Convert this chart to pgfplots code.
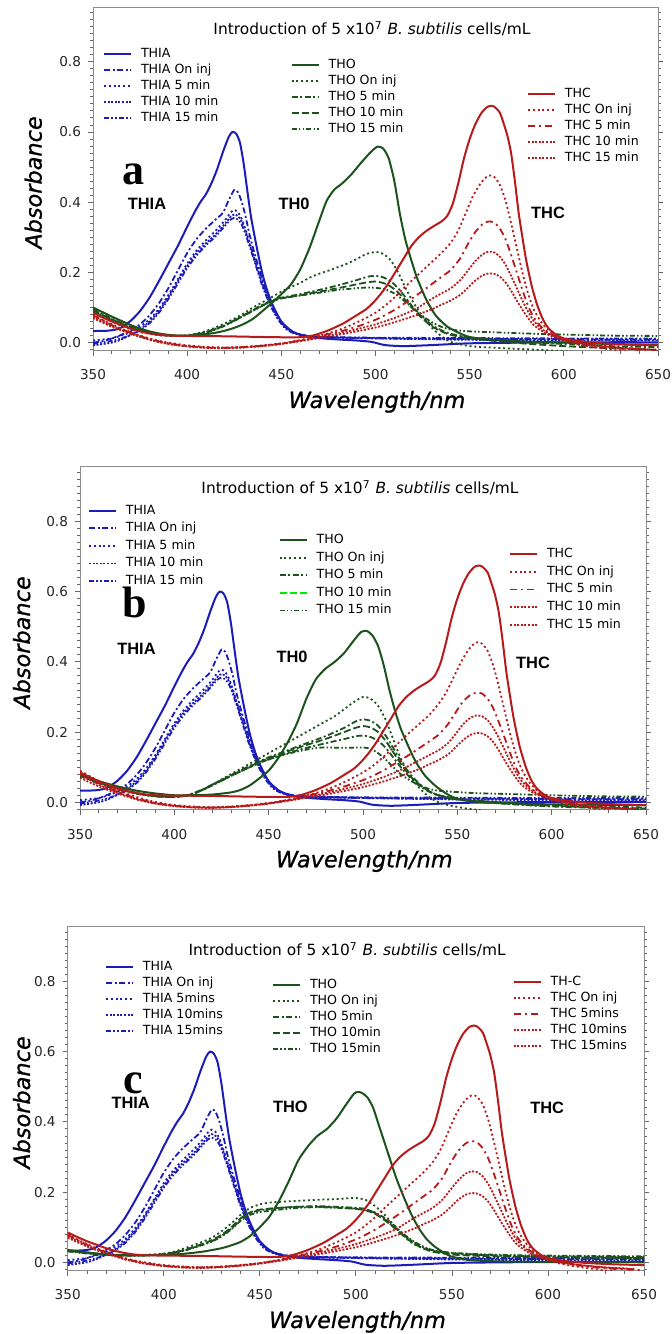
\documentclass[border=0pt]{standalone}
\usepackage{pgfplots}
\pgfplotsset{compat=1.18}
\usepackage{pgfplotstable}
\usepackage{fontspec}
\setmainfont{DejaVu Sans}
\newfontfamily\axfont{DejaVu Sans}[FakeBold=1]
\newfontfamily\grpfont{Liberation Sans}
\newfontfamily\letfont{Liberation Serif}

\definecolor{cblue}{RGB}{28,28,185}
\definecolor{cgreen}{RGB}{28,82,28}
\definecolor{cred}{RGB}{182,26,26}
\definecolor{clime}{RGB}{0,235,0}

% ---------------- THIA (all panels) ----------------
\pgfplotstableread[row sep=\\]{x y\\
350 0.033\\ 358 0.034\\ 364 0.040\\ 370 0.062\\ 375 0.090\\ 380 0.128\\ 385 0.175\\ 390 0.225\\ 395 0.275\\ 400 0.330\\
404 0.372\\ 407 0.400\\ 410 0.423\\ 413 0.455\\ 416 0.495\\ 419 0.543\\ 422 0.585\\ 424 0.600\\ 426 0.595\\ 428 0.570\\
430 0.510\\ 432 0.430\\ 434 0.355\\ 437 0.270\\ 440 0.195\\ 443 0.140\\ 446 0.100\\ 450 0.060\\ 455 0.035\\ 460 0.022\\
470 0.013\\ 480 0.009\\ 490 0.006\\ 498 0.002\\ 505 -0.007\\ 515 -0.010\\ 530 -0.007\\ 550 -0.002\\ 580 0.000\\ 620 0.001\\ 650 0.001\\
}\tIAs
\pgfplotstableread[row sep=\\]{x y\\
350 0.000\\ 355 0.004\\ 360 0.012\\ 365 0.022\\ 370 0.035\\ 375 0.052\\ 380 0.078\\ 385 0.112\\ 390 0.155\\ 395 0.205\\
400 0.255\\ 405 0.295\\ 410 0.325\\ 415 0.350\\ 419 0.370\\ 422 0.405\\ 425 0.435\\ 427 0.428\\ 429 0.400\\ 431 0.360\\
433 0.310\\ 436 0.250\\ 440 0.180\\ 444 0.120\\ 448 0.075\\ 452 0.045\\ 456 0.030\\ 462 0.021\\ 470 0.017\\ 500 0.013\\
550 0.011\\ 600 0.009\\ 650 0.008\\
}\tIAo
\pgfplotstableread[row sep=\\]{x y\\
350 0.006\\ 360 0.012\\ 365 0.020\\ 370 0.030\\ 375 0.045\\ 380 0.066\\ 385 0.096\\ 390 0.135\\ 395 0.180\\ 400 0.225\\
405 0.262\\ 410 0.292\\ 415 0.318\\ 420 0.348\\ 423 0.370\\ 425 0.378\\ 427 0.371\\ 429 0.352\\ 431 0.322\\ 434 0.270\\
437 0.220\\ 440 0.170\\ 444 0.115\\ 448 0.075\\ 452 0.046\\ 456 0.031\\ 462 0.021\\ 470 0.016\\ 500 0.012\\ 550 0.010\\
600 0.010\\ 650 0.010\\
}\tIAf
\pgfplotstableread[row sep=\\]{x y\\
350 -0.008\\ 360 0.000\\ 365 0.009\\ 370 0.022\\ 375 0.038\\ 380 0.060\\ 385 0.090\\ 390 0.130\\ 395 0.175\\ 400 0.218\\
405 0.255\\ 410 0.283\\ 415 0.308\\ 420 0.338\\ 423 0.358\\ 425 0.365\\ 427 0.360\\ 429 0.345\\ 431 0.316\\ 434 0.266\\
437 0.216\\ 440 0.166\\ 444 0.111\\ 448 0.071\\ 452 0.043\\ 456 0.029\\ 462 0.019\\ 470 0.015\\ 500 0.012\\ 550 0.008\\
600 0.006\\ 650 0.006\\
}\tIAt
\pgfplotstableread[row sep=\\]{x y\\
350 -0.004\\ 360 0.005\\ 365 0.012\\ 370 0.022\\ 375 0.035\\ 380 0.055\\ 385 0.085\\ 390 0.124\\ 395 0.168\\ 400 0.212\\
405 0.248\\ 410 0.277\\ 415 0.302\\ 420 0.332\\ 423 0.350\\ 425 0.355\\ 427 0.350\\ 429 0.335\\ 431 0.309\\ 434 0.260\\
437 0.210\\ 440 0.160\\ 444 0.108\\ 448 0.068\\ 452 0.041\\ 456 0.028\\ 462 0.019\\ 470 0.016\\ 500 0.014\\ 550 0.013\\
600 0.012\\ 650 0.012\\
}\tIAq

% ---------------- THO panel a ----------------
\pgfplotstableread[row sep=\\]{x y\\
350 0.100\\ 355 0.087\\ 360 0.074\\ 365 0.062\\ 370 0.050\\ 375 0.040\\ 380 0.032\\ 385 0.026\\ 390 0.022\\ 395 0.020\\
400 0.020\\ 405 0.021\\ 410 0.024\\ 415 0.028\\ 420 0.034\\ 425 0.042\\ 430 0.053\\ 435 0.068\\ 440 0.090\\ 445 0.113\\
450 0.138\\ 455 0.165\\ 460 0.208\\ 465 0.270\\ 470 0.345\\ 474 0.403\\ 478 0.435\\ 482 0.452\\ 487 0.478\\ 492 0.510\\
497 0.540\\ 501 0.558\\ 504 0.553\\ 507 0.525\\ 510 0.460\\ 513 0.365\\ 516 0.290\\ 519 0.235\\ 522 0.185\\ 527 0.122\\
532 0.077\\ 538 0.046\\ 545 0.026\\ 550 0.016\\ 560 0.008\\ 575 0.004\\ 600 0.000\\ 625 -0.004\\ 650 -0.006\\
}\oAs
\pgfplotstableread[row sep=\\]{x y\\
350 0.090\\ 355 0.075\\ 360 0.060\\ 365 0.048\\ 370 0.038\\ 375 0.030\\ 380 0.025\\ 385 0.021\\ 390 0.019\\ 395 0.019\\
400 0.021\\ 405 0.026\\ 410 0.033\\ 415 0.043\\ 420 0.055\\ 425 0.068\\ 430 0.083\\ 435 0.100\\ 440 0.115\\ 445 0.130\\
450 0.145\\ 455 0.158\\ 460 0.170\\ 465 0.185\\ 470 0.196\\ 475 0.205\\ 480 0.215\\ 485 0.225\\ 490 0.238\\ 495 0.252\\
500 0.258\\ 504 0.253\\ 508 0.235\\ 512 0.200\\ 516 0.155\\ 520 0.115\\ 525 0.075\\ 530 0.042\\ 535 0.018\\ 540 0.002\\
550 -0.010\\ 565 -0.015\\ 580 -0.019\\ 595 -0.023\\ 610 -0.027\\
}\oAo
\pgfplotstableread[row sep=\\]{x y\\
350 0.095\\ 360 0.068\\ 370 0.045\\ 380 0.030\\ 390 0.021\\ 400 0.020\\ 410 0.030\\ 420 0.050\\ 430 0.078\\ 440 0.108\\
445 0.120\\ 450 0.128\\ 460 0.138\\ 470 0.150\\ 480 0.163\\ 490 0.178\\ 496 0.188\\ 500 0.190\\ 504 0.186\\ 508 0.175\\
512 0.155\\ 516 0.128\\ 520 0.100\\ 525 0.072\\ 530 0.050\\ 535 0.035\\ 540 0.025\\ 550 0.015\\ 565 0.008\\ 580 0.002\\
600 -0.004\\ 625 -0.010\\ 650 -0.013\\
}\oAf
\pgfplotstableread[row sep=\\]{x y\\
350 0.092\\ 360 0.066\\ 370 0.044\\ 380 0.029\\ 390 0.021\\ 400 0.020\\ 410 0.029\\ 420 0.049\\ 430 0.077\\ 440 0.106\\
445 0.118\\ 450 0.126\\ 460 0.135\\ 470 0.145\\ 480 0.155\\ 490 0.166\\ 496 0.172\\ 500 0.174\\ 504 0.170\\ 508 0.160\\
512 0.143\\ 516 0.120\\ 520 0.095\\ 525 0.068\\ 530 0.046\\ 535 0.032\\ 540 0.022\\ 550 0.012\\ 565 0.004\\ 580 -0.003\\
600 -0.010\\ 625 -0.016\\ 650 -0.020\\
}\oAt
\pgfplotstableread[row sep=\\]{x y\\
350 0.090\\ 360 0.064\\ 370 0.043\\ 380 0.028\\ 390 0.020\\ 400 0.020\\ 410 0.028\\ 420 0.048\\ 430 0.076\\ 440 0.105\\
445 0.118\\ 450 0.126\\ 460 0.134\\ 470 0.142\\ 480 0.150\\ 490 0.155\\ 496 0.157\\ 500 0.156\\ 505 0.152\\ 510 0.140\\
515 0.120\\ 520 0.098\\ 525 0.076\\ 530 0.058\\ 535 0.045\\ 540 0.037\\ 550 0.032\\ 560 0.030\\ 580 0.026\\ 600 0.023\\
625 0.020\\ 650 0.019\\
}\oAq

% ---------------- THO panel b ----------------
\pgfplotstableread[row sep=\\]{x y\\
350 0.080\\ 360 0.060\\ 370 0.045\\ 380 0.033\\ 390 0.025\\ 400 0.020\\ 410 0.020\\ 420 0.022\\ 430 0.028\\ 435 0.035\\
440 0.048\\ 445 0.068\\ 450 0.090\\ 455 0.125\\ 460 0.170\\ 465 0.225\\ 470 0.295\\ 475 0.350\\ 480 0.380\\ 485 0.400\\
490 0.425\\ 495 0.460\\ 499 0.485\\ 502 0.488\\ 505 0.475\\ 508 0.445\\ 511 0.390\\ 514 0.320\\ 517 0.260\\ 520 0.210\\
524 0.160\\ 528 0.115\\ 533 0.075\\ 539 0.044\\ 545 0.022\\ 550 0.010\\ 560 0.002\\ 580 -0.003\\ 600 -0.006\\ 650 -0.008\\
}\oBs
\pgfplotstableread[row sep=\\]{x y\\
350 0.085\\ 360 0.060\\ 370 0.040\\ 380 0.027\\ 390 0.018\\ 400 0.016\\ 408 0.020\\ 415 0.035\\ 420 0.050\\ 425 0.065\\
430 0.080\\ 435 0.095\\ 440 0.110\\ 445 0.125\\ 450 0.140\\ 455 0.155\\ 460 0.170\\ 465 0.185\\ 470 0.200\\ 475 0.215\\
480 0.230\\ 485 0.245\\ 490 0.265\\ 495 0.285\\ 500 0.300\\ 504 0.295\\ 508 0.275\\ 512 0.235\\ 516 0.180\\ 520 0.125\\
525 0.075\\ 530 0.040\\ 535 0.015\\ 540 0.000\\ 545 -0.008\\ 555 -0.018\\ 565 -0.024\\
}\oBo
\pgfplotstableread[row sep=\\]{x y\\
350 0.080\\ 360 0.058\\ 370 0.040\\ 380 0.026\\ 390 0.018\\ 400 0.016\\ 408 0.022\\ 415 0.037\\ 420 0.050\\ 430 0.077\\
440 0.104\\ 445 0.116\\ 450 0.128\\ 460 0.148\\ 470 0.168\\ 480 0.188\\ 490 0.212\\ 496 0.230\\ 500 0.236\\ 504 0.232\\
508 0.218\\ 512 0.190\\ 516 0.155\\ 520 0.118\\ 525 0.080\\ 530 0.052\\ 535 0.032\\ 540 0.020\\ 550 0.008\\ 565 0.000\\
580 -0.006\\ 600 -0.012\\ 625 -0.016\\ 650 -0.020\\
}\oBf
\pgfplotstableread[row sep=\\]{x y\\
350 0.078\\ 360 0.056\\ 370 0.039\\ 380 0.025\\ 390 0.017\\ 400 0.015\\ 408 0.021\\ 415 0.036\\ 420 0.049\\ 430 0.076\\
440 0.102\\ 445 0.114\\ 450 0.125\\ 460 0.145\\ 470 0.163\\ 480 0.180\\ 490 0.200\\ 496 0.212\\ 500 0.217\\ 504 0.213\\
508 0.200\\ 512 0.175\\ 516 0.143\\ 520 0.110\\ 525 0.075\\ 530 0.050\\ 535 0.032\\ 540 0.020\\ 550 0.008\\ 565 0.000\\
580 -0.005\\ 600 -0.010\\ 625 -0.015\\ 650 -0.018\\
}\oBt
\pgfplotstableread[row sep=\\]{x y\\
350 0.076\\ 360 0.055\\ 370 0.038\\ 380 0.025\\ 390 0.017\\ 400 0.015\\ 408 0.021\\ 415 0.035\\ 420 0.048\\ 430 0.075\\
440 0.100\\ 445 0.112\\ 450 0.122\\ 460 0.140\\ 470 0.155\\ 480 0.168\\ 490 0.180\\ 496 0.188\\ 500 0.190\\ 504 0.186\\
508 0.175\\ 512 0.155\\ 516 0.128\\ 520 0.100\\ 525 0.070\\ 530 0.047\\ 535 0.030\\ 540 0.020\\ 550 0.010\\ 565 0.003\\
580 -0.003\\ 600 -0.008\\ 625 -0.012\\ 650 -0.015\\
}\oBx
\pgfplotstableread[row sep=\\]{x y\\
350 0.075\\ 360 0.054\\ 370 0.037\\ 380 0.024\\ 390 0.017\\ 400 0.015\\ 408 0.021\\ 415 0.035\\ 420 0.048\\ 430 0.075\\
440 0.100\\ 445 0.112\\ 450 0.122\\ 460 0.138\\ 470 0.150\\ 476 0.155\\ 480 0.156\\ 490 0.155\\ 500 0.156\\ 504 0.152\\
508 0.140\\ 512 0.122\\ 516 0.100\\ 520 0.080\\ 525 0.062\\ 530 0.048\\ 535 0.038\\ 540 0.033\\ 550 0.029\\ 560 0.026\\
580 0.023\\ 600 0.020\\ 625 0.017\\ 650 0.016\\
}\oBq

% ---------------- THO panel c ----------------
\pgfplotstableread[row sep=\\]{x y\\
350 0.035\\ 360 0.028\\ 370 0.022\\ 380 0.020\\ 390 0.020\\ 400 0.021\\ 410 0.024\\ 420 0.030\\ 430 0.040\\ 435 0.048\\
440 0.058\\ 445 0.075\\ 450 0.100\\ 455 0.130\\ 460 0.175\\ 465 0.230\\ 470 0.290\\ 475 0.330\\ 480 0.360\\ 485 0.380\\
490 0.410\\ 495 0.450\\ 499 0.480\\ 501 0.485\\ 503 0.483\\ 506 0.470\\ 509 0.440\\ 512 0.390\\ 515 0.340\\ 518 0.290\\
521 0.240\\ 525 0.185\\ 529 0.135\\ 533 0.095\\ 537 0.065\\ 541 0.045\\ 545 0.030\\ 550 0.016\\ 560 0.006\\ 580 0.002\\ 650 0.000\\
}\oCs
\pgfplotstableread[row sep=\\]{x y\\
350 0.034\\ 360 0.028\\ 370 0.023\\ 380 0.020\\ 390 0.021\\ 400 0.025\\ 405 0.030\\ 410 0.038\\ 415 0.048\\ 420 0.058\\
425 0.070\\ 430 0.088\\ 435 0.110\\ 440 0.135\\ 445 0.155\\ 450 0.165\\ 455 0.170\\ 460 0.172\\ 470 0.175\\ 480 0.178\\
490 0.180\\ 495 0.182\\ 500 0.183\\ 505 0.178\\ 510 0.160\\ 515 0.135\\ 520 0.105\\ 525 0.075\\ 530 0.052\\ 535 0.040\\
540 0.032\\ 550 0.026\\ 570 0.020\\ 600 0.015\\ 650 0.012\\
}\oCo
\pgfplotstableread[row sep=\\]{x y\\
350 0.033\\ 360 0.027\\ 370 0.022\\ 380 0.020\\ 390 0.020\\ 400 0.023\\ 410 0.033\\ 420 0.050\\ 425 0.060\\ 430 0.075\\
435 0.095\\ 440 0.120\\ 445 0.140\\ 450 0.148\\ 455 0.152\\ 460 0.155\\ 470 0.158\\ 480 0.160\\ 490 0.158\\ 500 0.155\\
505 0.152\\ 510 0.140\\ 515 0.122\\ 520 0.100\\ 525 0.077\\ 530 0.058\\ 535 0.043\\ 540 0.033\\ 550 0.025\\ 570 0.020\\
600 0.017\\ 650 0.015\\
}\oCf
\pgfplotstableread[row sep=\\]{x y\\
350 0.032\\ 360 0.026\\ 370 0.021\\ 380 0.019\\ 390 0.020\\ 400 0.023\\ 410 0.034\\ 420 0.052\\ 425 0.063\\ 430 0.078\\
435 0.099\\ 440 0.125\\ 445 0.142\\ 450 0.150\\ 460 0.155\\ 470 0.158\\ 480 0.158\\ 490 0.156\\ 500 0.152\\ 505 0.148\\
510 0.138\\ 515 0.120\\ 520 0.098\\ 525 0.074\\ 530 0.054\\ 535 0.040\\ 540 0.030\\ 550 0.022\\ 570 0.017\\ 600 0.014\\ 650 0.012\\
}\oCt
\pgfplotstableread[row sep=\\]{x y\\
350 0.031\\ 360 0.025\\ 370 0.021\\ 380 0.019\\ 390 0.019\\ 400 0.022\\ 410 0.032\\ 420 0.049\\ 425 0.059\\ 430 0.073\\
435 0.093\\ 440 0.118\\ 445 0.135\\ 450 0.143\\ 460 0.150\\ 470 0.155\\ 480 0.157\\ 490 0.155\\ 500 0.153\\ 505 0.150\\
510 0.142\\ 515 0.126\\ 520 0.104\\ 525 0.080\\ 530 0.060\\ 535 0.045\\ 540 0.035\\ 550 0.027\\ 570 0.022\\ 600 0.019\\ 650 0.017\\
}\oCq

% ---------------- THC panels a, c ----------------
\pgfplotstableread[row sep=\\]{x y\\
350 0.085\\ 355 0.072\\ 360 0.060\\ 365 0.050\\ 370 0.040\\ 375 0.032\\ 380 0.026\\ 385 0.022\\ 390 0.020\\ 400 0.019\\
420 0.018\\ 440 0.016\\ 455 0.015\\ 462 0.016\\ 468 0.022\\ 475 0.035\\ 483 0.055\\ 490 0.078\\ 495 0.095\\ 499 0.115\\
503 0.140\\ 507 0.170\\ 511 0.205\\ 515 0.240\\ 519 0.275\\ 523 0.300\\ 527 0.318\\ 531 0.332\\ 535 0.345\\ 538 0.360\\
541 0.395\\ 544 0.455\\ 547 0.525\\ 550 0.580\\ 553 0.622\\ 556 0.652\\ 559 0.670\\ 561 0.674\\ 563 0.672\\ 566 0.655\\
568 0.625\\ 570 0.590\\ 572 0.540\\ 574 0.460\\ 576 0.370\\ 578 0.300\\ 580 0.235\\ 583 0.160\\ 586 0.105\\ 589 0.065\\
592 0.040\\ 596 0.022\\ 600 0.012\\ 610 0.003\\ 620 -0.002\\ 635 -0.006\\ 650 -0.008\\
}\cAs
\pgfplotstableread[row sep=\\]{x y\\
350 0.080\\ 355 0.065\\ 360 0.052\\ 365 0.040\\ 370 0.030\\ 375 0.020\\ 380 0.012\\ 385 0.005\\ 390 0.000\\ 395 -0.004\\
400 -0.008\\ 410 -0.012\\ 420 -0.014\\ 430 -0.012\\ 440 -0.008\\ 450 -0.002\\ 458 0.005\\ 465 0.013\\ 472 0.022\\ 480 0.035\\
487 0.050\\ 493 0.065\\ 500 0.085\\ 505 0.105\\ 510 0.128\\ 515 0.155\\ 520 0.180\\ 525 0.205\\ 530 0.230\\ 535 0.255\\
540 0.285\\ 544 0.320\\ 548 0.370\\ 552 0.420\\ 556 0.455\\ 559 0.472\\ 561 0.476\\ 563 0.472\\ 566 0.450\\ 569 0.405\\
572 0.340\\ 575 0.270\\ 578 0.200\\ 581 0.140\\ 584 0.095\\ 588 0.058\\ 592 0.035\\ 596 0.020\\ 600 0.008\\ 605 -0.002\\
612 -0.010\\ 620 -0.016\\ 628 -0.022\\ 635 -0.026\\
}\cAo
\pgfplotstableread[row sep=\\]{x y\\
350 0.078\\ 360 0.050\\ 370 0.028\\ 380 0.010\\ 390 -0.002\\ 400 -0.010\\ 410 -0.014\\ 420 -0.015\\ 430 -0.013\\ 440 -0.009\\
450 -0.003\\ 460 0.006\\ 470 0.018\\ 480 0.030\\ 490 0.045\\ 500 0.065\\ 505 0.078\\ 510 0.093\\ 515 0.110\\ 520 0.128\\
525 0.147\\ 530 0.167\\ 535 0.187\\ 540 0.207\\ 545 0.240\\ 549 0.280\\ 553 0.315\\ 557 0.338\\ 560 0.345\\ 563 0.342\\
566 0.325\\ 569 0.295\\ 572 0.250\\ 575 0.200\\ 578 0.150\\ 581 0.105\\ 584 0.072\\ 588 0.045\\ 592 0.028\\ 596 0.016\\
600 0.008\\ 610 -0.004\\ 620 -0.012\\ 632 -0.018\\ 650 -0.023\\
}\cAf
\pgfplotstableread[row sep=\\]{x y\\
350 0.075\\ 360 0.048\\ 370 0.027\\ 380 0.009\\ 390 -0.003\\ 400 -0.010\\ 410 -0.014\\ 420 -0.015\\ 430 -0.013\\ 440 -0.009\\
450 -0.003\\ 460 0.005\\ 470 0.015\\ 480 0.026\\ 490 0.038\\ 500 0.052\\ 510 0.070\\ 520 0.092\\ 525 0.108\\ 530 0.125\\
535 0.140\\ 540 0.155\\ 545 0.178\\ 549 0.205\\ 553 0.232\\ 557 0.252\\ 560 0.259\\ 563 0.257\\ 566 0.245\\ 569 0.222\\
572 0.190\\ 575 0.155\\ 578 0.120\\ 581 0.088\\ 584 0.062\\ 588 0.040\\ 592 0.026\\ 596 0.016\\ 600 0.008\\ 610 -0.003\\
620 -0.010\\ 632 -0.016\\ 645 -0.020\\
}\cAt
\pgfplotstableread[row sep=\\]{x y\\
350 0.070\\ 360 0.045\\ 370 0.025\\ 380 0.008\\ 390 -0.004\\ 400 -0.011\\ 410 -0.015\\ 420 -0.016\\ 430 -0.014\\ 440 -0.010\\
450 -0.004\\ 460 0.004\\ 470 0.013\\ 480 0.022\\ 490 0.032\\ 500 0.043\\ 510 0.058\\ 520 0.075\\ 525 0.085\\ 530 0.095\\
535 0.108\\ 540 0.120\\ 545 0.136\\ 549 0.156\\ 553 0.177\\ 557 0.192\\ 560 0.197\\ 563 0.196\\ 566 0.188\\ 569 0.172\\
572 0.148\\ 575 0.120\\ 578 0.094\\ 581 0.070\\ 584 0.050\\ 588 0.034\\ 592 0.022\\ 596 0.014\\ 600 0.007\\ 610 -0.003\\
620 -0.010\\ 632 -0.015\\ 645 -0.019\\
}\cAq

% ---------------- THC panel b ----------------
\pgfplotstableread[row sep=\\]{x y\\
350 0.090\\ 355 0.075\\ 360 0.060\\ 365 0.047\\ 370 0.035\\ 375 0.024\\ 380 0.015\\ 385 0.007\\ 390 0.001\\ 395 -0.004\\
400 -0.008\\ 410 -0.012\\ 420 -0.014\\ 430 -0.012\\ 440 -0.008\\ 450 -0.002\\ 458 0.005\\ 465 0.013\\ 472 0.022\\ 480 0.035\\
487 0.050\\ 493 0.065\\ 500 0.085\\ 505 0.103\\ 510 0.125\\ 515 0.150\\ 520 0.175\\ 525 0.200\\ 530 0.224\\ 535 0.248\\
540 0.280\\ 544 0.312\\ 548 0.356\\ 552 0.400\\ 556 0.435\\ 559 0.452\\ 561 0.456\\ 563 0.452\\ 566 0.432\\ 569 0.390\\
572 0.330\\ 575 0.262\\ 578 0.195\\ 581 0.138\\ 584 0.095\\ 588 0.058\\ 592 0.035\\ 596 0.020\\ 600 0.008\\ 605 -0.002\\
612 -0.010\\ 620 -0.016\\ 628 -0.022\\ 635 -0.026\\
}\cBo
\pgfplotstableread[row sep=\\]{x y\\
350 0.085\\ 360 0.055\\ 370 0.030\\ 380 0.011\\ 390 -0.002\\ 400 -0.010\\ 410 -0.014\\ 420 -0.015\\ 430 -0.013\\ 440 -0.009\\
450 -0.003\\ 460 0.006\\ 470 0.018\\ 480 0.030\\ 490 0.045\\ 500 0.063\\ 505 0.075\\ 510 0.088\\ 515 0.104\\ 520 0.120\\
525 0.137\\ 530 0.155\\ 535 0.173\\ 540 0.192\\ 545 0.222\\ 549 0.255\\ 553 0.287\\ 557 0.306\\ 560 0.312\\ 563 0.310\\
566 0.295\\ 569 0.268\\ 572 0.228\\ 575 0.185\\ 578 0.140\\ 581 0.100\\ 584 0.070\\ 588 0.045\\ 592 0.028\\ 596 0.016\\
600 0.008\\ 610 -0.004\\ 620 -0.012\\ 632 -0.018\\ 650 -0.023\\
}\cBf
\pgfplotstableread[row sep=\\]{x y\\
350 0.080\\ 360 0.050\\ 370 0.028\\ 380 0.010\\ 390 -0.003\\ 400 -0.010\\ 410 -0.014\\ 420 -0.015\\ 430 -0.013\\ 440 -0.009\\
450 -0.003\\ 460 0.005\\ 470 0.015\\ 480 0.026\\ 490 0.038\\ 500 0.052\\ 510 0.070\\ 520 0.092\\ 525 0.106\\ 530 0.120\\
535 0.134\\ 540 0.148\\ 545 0.168\\ 549 0.194\\ 553 0.222\\ 557 0.241\\ 560 0.247\\ 563 0.245\\ 566 0.234\\ 569 0.212\\
572 0.183\\ 575 0.150\\ 578 0.116\\ 581 0.086\\ 584 0.061\\ 588 0.040\\ 592 0.026\\ 596 0.016\\ 600 0.008\\ 610 -0.003\\
620 -0.010\\ 632 -0.016\\ 645 -0.020\\
}\cBt

\tikzset{
  sol/.style={line width=1pt, solid},
  ddash/.style={line width=0.9pt, dash pattern=on 3pt off 1.3pt on 1pt off 1.3pt},
  dotd/.style={line width=0.9pt, dash pattern=on 1pt off 1.4pt},
  dense/.style={line width=0.9pt, dash pattern=on 1pt off 0.8pt},
  ddot/.style={line width=0.9pt, dash pattern=on 2.5pt off 1.1pt on 0.8pt off 1.1pt on 0.8pt off 1.1pt},
  ldash/.style={line width=0.9pt, dash pattern=on 3.5pt off 1.5pt},
  ldd/.style={line width=0.9pt, dash pattern=on 3.5pt off 2pt on 1pt off 2pt},
  tfont/.style={font=\fontsize{7.7pt}{9pt}\selectfont},
  letter/.style={font=\letfont\bfseries\fontsize{22pt}{24pt}\selectfont},
  grp/.style={font=\grpfont\bfseries\fontsize{8.2pt}{10pt}\selectfont},
  axl/.style={font=\axfont\itshape\fontsize{11.2pt}{13pt}\selectfont},
}

\pgfplotsset{
  panel/.style={
    scale only axis, anchor=south west, xmin=350, xmax=650,
    xtick={350,400,450,500,550,600,650},
    minor xtick={360,370,380,390,410,420,430,440,460,470,480,490,510,520,530,540,560,570,580,590,610,620,630,640},
    ytick={0,0.2,0.4,0.6,0.8},
    minor ytick={-0.02,0.02,0.04,0.06,0.08,0.1,0.12,0.14,0.16,0.18,0.22,0.24,0.26,0.28,0.3,0.32,0.34,0.36,0.38,0.42,0.44,0.46,0.48,0.5,0.52,0.54,0.56,0.58,0.62,0.64,0.66,0.68,0.7,0.72,0.74,0.76,0.78,0.82,0.84,0.86,0.88,0.9,0.92,0.94},
    tick align=outside, xtick pos=bottom, ytick pos=both, yticklabel pos=left,
    major tick length=2.5pt, minor tick length=1.5pt,
    axis line style={draw=black!45, line width=0.5pt},
    tick style={draw=black!60, line width=0.4pt},
    ticklabel style={font=\fontsize{6.8pt}{8pt}\selectfont, text=black!85},
    /pgf/number format/assume math mode=true,
    yticklabel style={/pgf/number format/.cd, fixed, fixed zerofill, precision=1},
    xticklabel style={yshift=-3.5pt, /pgf/number format/.cd, fixed, precision=0, 1000 sep={}},
    legend cell align=left,
    legend style={draw=none, fill=none, anchor=north west, inner sep=0pt, outer sep=0pt,
      font=\fontsize{6.3pt}{7pt}\selectfont, row sep=1.8pt, column sep=4.5pt,
      nodes={inner sep=0pt, text height=4.8pt, text depth=1.4pt}},
    legend image code/.code={\draw[##1] (0pt,0pt) -- (13.5pt,0pt);},
  },
  ovl/.style={panel, hide axis},
  pa/.style={at={(46.5pt,491.65pt)}, width=282.5pt, height=171.7pt, ymin=-0.023, ymax=0.955},
  pb/.style={at={(40pt,262pt)}, width=283pt, height=171.5pt, ymin=-0.022, ymax=0.955},
  pc/.style={at={(33.85pt,31.65pt)}, width=288.15pt, height=172pt, ymin=-0.024, ymax=0.956},
}

\begin{document}
\begin{tikzpicture}
\useasboundingbox (0,0) rectangle (336pt,667pt);

% ================= PANEL a =================
\begin{axis}[panel, pa, legend style={at={(0.0177,0.8821)}}]
\addplot[cblue, sol, smooth, tension=0.4] table {\tIAs};
\addplot[cblue, ddash, smooth, tension=0.4] table {\tIAo};
\addplot[cblue, dotd, smooth, tension=0.4] table {\tIAf};
\addplot[cblue, dense, smooth, tension=0.4] table {\tIAt};
\addplot[cblue, ddot, smooth, tension=0.4] table {\tIAq};
\legend{THIA, THIA On inj, THIA 5 min, THIA 10 min, THIA 15 min}
\end{axis}
\begin{axis}[ovl, pa, legend style={at={(0.3497,0.8500)}}]
\addplot[cgreen, sol, smooth, tension=0.4] table {\oAs};
\addplot[cgreen, dotd, smooth, tension=0.4] table {\oAo};
\addplot[cgreen, ddash, smooth, tension=0.4] table {\oAf};
\addplot[cgreen, ldash, smooth, tension=0.4] table {\oAt};
\addplot[cgreen, ddot, smooth, tension=0.4] table {\oAq};
\legend{THO, THO On inj, THO 5 min, THO 10 min, THO 15 min}
\end{axis}
\begin{axis}[ovl, pa, legend style={at={(0.7681,0.7665)}}]
\addplot[cred, sol, smooth, tension=0.4] table {\cAs};
\addplot[cred, dotd, smooth, tension=0.4] table {\cAo};
\addplot[cred, ldd, smooth, tension=0.4] table {\cAf};
\addplot[cred, dense, smooth, tension=0.4] table {\cAt};
\addplot[cred, dense, smooth, tension=0.4] table {\cAq};
\legend{THC, THC On inj, THC 5 min, THC 10 min, THC 15 min}
\end{axis}

% ================= PANEL b =================
\begin{axis}[panel, pb, legend style={at={(0.0141,0.8907)}, row sep=2.6pt}]
\addplot[cblue, sol, smooth, tension=0.4] table {\tIAs};
\addplot[cblue, ddash, smooth, tension=0.4] table {\tIAo};
\addplot[cblue, dotd, smooth, tension=0.4] table {\tIAf};
\addplot[cblue, dense, smooth, tension=0.4] table {\tIAt};
\addplot[cblue, ddot, smooth, tension=0.4] table {\tIAq};
\legend{THIA, THIA On inj, THIA 5 min, THIA 10 min, THIA 15 min}
\end{axis}
\begin{axis}[ovl, pb, legend style={at={(0.3509,0.8052)}, row sep=2.6pt}]
\addplot[cgreen, sol, smooth, tension=0.4] table {\oBs};
\addplot[cgreen, dotd, smooth, tension=0.4] table {\oBo};
\addplot[cgreen, ddash, smooth, tension=0.4] table {\oBf};
\addplot[cgreen, ldash, smooth, tension=0.4, forget plot] table {\oBt};
\addlegendimage{clime, ldash}
\addplot[cgreen, ddot, smooth, tension=0.4] table {\oBq};
\addplot[cgreen, ddash, smooth, tension=0.4, forget plot] table {\oBx};
\legend{THO, THO On inj, THO 5 min, THO 10 min, THO 15 min}
\end{axis}
\begin{axis}[ovl, pb, legend style={at={(0.758,0.7636)}, row sep=2.6pt}]
\addplot[cred, sol, smooth, tension=0.4] table {\cAs};
\addplot[cred, dotd, smooth, tension=0.4] table {\cBo};
\addplot[cred, ldd, smooth, tension=0.4] table {\cBf};
\addplot[cred, dense, smooth, tension=0.4] table {\cBt};
\addplot[cred, dense, smooth, tension=0.4] table {\cAq};
\legend{THC, THC On inj, THC 5 min, THC 10 min, THC 15 min}
\end{axis}

% ================= PANEL c =================
\begin{axis}[panel, pc, legend style={at={(0.0647,0.9017)}}]
\addplot[cblue, sol, smooth, tension=0.4] table {\tIAs};
\addplot[cblue, ddash, smooth, tension=0.4] table {\tIAo};
\addplot[cblue, dotd, smooth, tension=0.4] table {\tIAf};
\addplot[cblue, dense, smooth, tension=0.4] table {\tIAt};
\addplot[cblue, ddot, smooth, tension=0.4] table {\tIAq};
\legend{THIA, THIA On inj, THIA 5mins, THIA 10mins, THIA 15mins}
\end{axis}
\begin{axis}[ovl, pc, legend style={at={(0.3545,0.8485)}}]
\addplot[cgreen, sol, smooth, tension=0.4] table {\oCs};
\addplot[cgreen, dotd, smooth, tension=0.4] table {\oCo};
\addplot[cgreen, ddash, smooth, tension=0.4] table {\oCf};
\addplot[cgreen, ldash, smooth, tension=0.4] table {\oCt};
\addplot[cgreen, ddot, smooth, tension=0.4] table {\oCq};
\legend{THO, THO On inj, THO 5min, THO 10min, THO 15min}
\end{axis}
\begin{axis}[ovl, pc, legend style={at={(0.772,0.8581)}}]
\addplot[cred, sol, smooth, tension=0.4] table {\cAs};
\addplot[cred, dotd, smooth, tension=0.4] table {\cAo};
\addplot[cred, ldd, smooth, tension=0.4] table {\cAf};
\addplot[cred, dense, smooth, tension=0.4] table {\cAt};
\addplot[cred, dense, smooth, tension=0.4] table {\cAq};
\legend{TH-C, THC On inj, THC 5mins, THC 10mins, THC 15mins}
\end{axis}

% ================= text labels (pixel coordinates) =================
\begin{scope}[x=0.5pt, y=-0.5pt, shift={(0pt,667pt)}]
% panel a
\node[tfont, anchor=base] at (372,35) {Introduction of 5 x10\textsuperscript{7} \textit{B. subtilis} cells/mL};
\node[letter, anchor=base] at (133,185) {a};
\node[grp, anchor=base] at (147,210) {THIA};
\node[grp, anchor=base] at (294,210) {TH0};
\node[grp, anchor=base] at (548,219) {THC};
\node[axl, anchor=base] at (377,408) {Wavelength/nm};
\node[axl, anchor=base, rotate=90] at (41.6,182.5) {Absorbance};
% panel b
\node[tfont, anchor=base] at (360,494) {Introduction of 5 x10\textsuperscript{7} \textit{B. subtilis} cells/mL};
\node[letter, anchor=base] at (135,618) {b};
\node[grp, anchor=base] at (136.5,655) {THIA};
\node[grp, anchor=base] at (292,662.3) {TH0};
\node[grp, anchor=base] at (533,668.3) {THC};
\node[axl, anchor=base] at (364.3,867.3) {Wavelength/nm};
\node[axl, anchor=base, rotate=90] at (30,642.5) {Absorbance};
% panel c
\node[tfont, anchor=base] at (347.2,956) {Introduction of 5 x10\textsuperscript{7} \textit{B. subtilis} cells/mL};
\node[letter, anchor=base] at (133,1094) {c};
\node[grp, anchor=base] at (130.7,1108.3) {THIA};
\node[grp, anchor=base] at (290.4,1112.3) {THO};
\node[grp, anchor=base] at (547.2,1113.3) {THC};
\node[axl, anchor=base] at (357.5,1328) {Wavelength/nm};
\node[axl, anchor=base, rotate=90] at (30,1102.5) {Absorbance};
\end{scope}
\end{tikzpicture}
\end{document}
